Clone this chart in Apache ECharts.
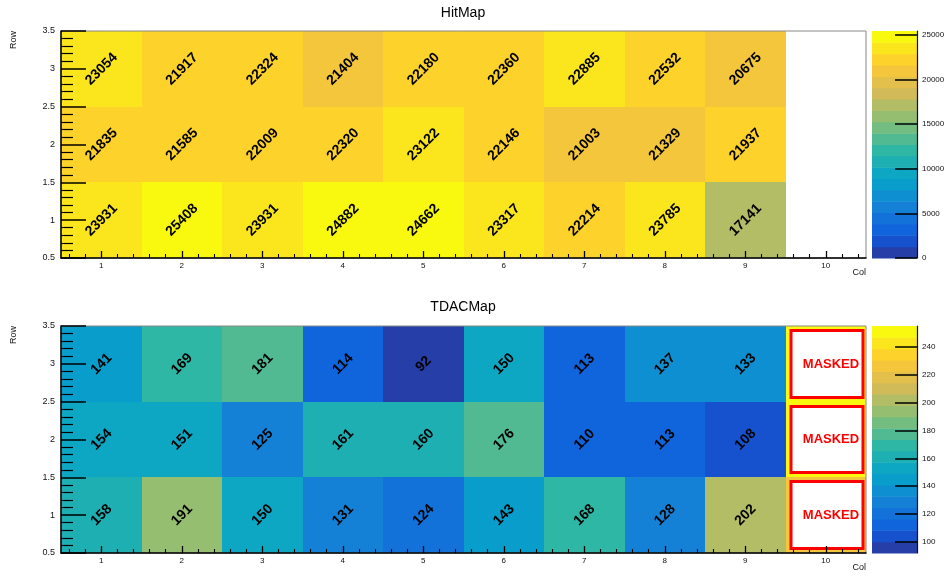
<!DOCTYPE html>
<html><head><meta charset="utf-8">
<script src="https://cdn.jsdelivr.net/npm/echarts@6/dist/echarts.min.js"></script>
<style>html,body{margin:0;padding:0;background:#fff}#c{width:949px;height:576px}</style>
</head><body><div id="c"></div>
<script>
// ---------- data ----------
const cols = [1, 2, 3, 4, 5, 6, 7, 8, 9, 10];
const rows = [1, 2, 3];
const hitRow1 = [23931, 25408, 23931, 24882, 24662, 23317, 22214, 23785, 17141, null];
const hitRow2 = [21835, 21585, 22009, 22320, 23122, 22146, 21003, 21329, 21937, null];
const hitRow3 = [23054, 21917, 22324, 21404, 22180, 22360, 22885, 22532, 20675, null];
const tdacRow1 = [158, 191, 150, 131, 124, 143, 168, 128, 202, 226];
const tdacRow2 = [154, 151, 125, 161, 160, 176, 110, 113, 108, 250];
const tdacRow3 = [141, 169, 181, 114, 92, 150, 113, 137, 133, 255];
const maskedCols = [10];
const hitTicks = [0, 5000, 10000, 15000, 20000, 25000];
const tdacTicks = [100, 120, 140, 160, 180, 200, 220, 240];
const xTicks = [1, 2, 3, 4, 5, 6, 7, 8, 9, 10];
const titles = ['HitMap', 'TDACMap'];
const axisNames = ['Col', 'Row'];
const maskedLabel = 'MASKED';

// ---------- palette (ROOT kBird, 255 colours, 20 contours) ----------
const stops = [0, .125, .25, .375, .5, .625, .75, .875, 1];
const pR = [0.2082, 0.0592, 0.0780, 0.0232, 0.1802, 0.5301, 0.8186, 0.9956, 0.9764];
const pG = [0.1664, 0.3599, 0.5041, 0.6419, 0.7178, 0.7492, 0.7328, 0.7862, 0.9832];
const pB = [0.5293, 0.8684, 0.8385, 0.7914, 0.6425, 0.4662, 0.3499, 0.1968, 0.0539];
const NCOL = 255, NDIV = 20;
const palette = [];
for (let g = 1; g < stops.length; g++) {
  const n = Math.floor(NCOL * stops[g]) - Math.floor(NCOL * stops[g - 1]);
  for (let c = 0; c < n; c++) {
    const r = pR[g - 1] + c * (pR[g] - pR[g - 1]) / n;
    const gg = pG[g - 1] + c * (pG[g] - pG[g - 1]) / n;
    const b = pB[g - 1] + c * (pB[g] - pB[g - 1]) / n;
    palette.push('rgb(' + Math.round(r * 255) + ',' + Math.round(gg * 255) + ',' + Math.round(b * 255) + ')');
  }
}
function bandColor(i) { return palette[Math.min(NCOL - 1, Math.floor((i + 0.99) * NCOL / NDIV))]; }
function bandOf(v, zmin, zmax) {
  const b = Math.floor(0.01 + (v - zmin) * NDIV / (zmax - zmin));
  return Math.max(0, Math.min(NDIV - 1, b));
}

function toCells(rowArrays) {
  const out = [];
  rowArrays.forEach((arr, ri) => arr.forEach((v, ci) => {
    if (v !== null) out.push([cols[ci], rows[ri], v, maskedCols.indexOf(cols[ci]) >= 0 ? 1 : 0]);
  }));
  return out;
}
const hitCells = toCells([hitRow1, hitRow2, hitRow3]);
const tdacCells = toCells([tdacRow1, tdacRow2, tdacRow3]);
const hitVals = hitCells.map(d => d[2]);
const tdacVals = tdacCells.map(d => d[2]);
const hitMin = 0, hitMax = Math.max.apply(null, hitVals);
const tdacMin = Math.min.apply(null, tdacVals), tdacMax = Math.max.apply(null, tdacVals);

// ---------- layout ----------
const FONT = '"Liberation Sans", Arial, Helvetica, sans-serif';
const L = 61, W = 805, H = 227, T1 = 31, T2 = 326, CBX = 872, CBW = 45;
const minorX = [];
for (let k = 3; k <= 52; k++) { if (k % 5 !== 0) minorX.push(k / 5); }

function heatRender(zmin, zmax) {
  return function (params, api) {
    const x = api.value(0), y = api.value(1), v = api.value(2), m = api.value(3);
    const p0 = api.coord([x - 0.5, y + 0.5]);
    const p1 = api.coord([x + 0.5, y - 0.5]);
    const x0 = Math.round(p0[0]), y0 = Math.round(p0[1]);
    const w = Math.round(p1[0]) - x0, h = Math.round(p1[1]) - y0;
    const children = [{ type: 'rect', shape: { x: x0, y: y0, width: w, height: h },
      style: { fill: bandColor(bandOf(v, zmin, zmax)) } }];
    if (m) {
      children.push({ type: 'rect', shape: { x: x0 + 5, y: y0 + 4.5, width: w - 8, height: h - 9 },
        style: { fill: '#ffffff', stroke: '#ff0000', lineWidth: 3 } });
      children.push({ type: 'text', x: x0 + w / 2 + 5, y: y0 + h / 2,
        style: { text: maskedLabel, fill: '#ff0000', font: 'bold 13px ' + FONT,
          align: 'center', verticalAlign: 'middle', textAlign: 'center', textVerticalAlign: 'middle' } });
    } else {
      children.push({ type: 'text', x: x0 + w / 2, y: y0 + h / 2, rotation: Math.PI / 4,
        style: { text: String(v), fill: '#000', font: 'bold 14px ' + FONT,
          align: 'center', verticalAlign: 'middle', textAlign: 'center', textVerticalAlign: 'middle' } });
    }
    return { type: 'group', children: children };
  };
}
function barRender(zmin, zmax) {
  return function (params, api) {
    const i = api.value(0);
    const step = (zmax - zmin) / NDIV;
    const p0 = api.coord([0, zmin + (i + 1) * step]);
    const p1 = api.coord([1, zmin + i * step]);
    return { type: 'rect', shape: { x: p0[0], y: p0[1], width: p1[0] - p0[0], height: p1[1] - p0[1] + 0.5 },
      style: { fill: bandColor(i) } };
  };
}
const bands = [];
for (let i = 0; i < NDIV; i++) bands.push([i]);

function mainX(gi) {
  return [{
    gridIndex: gi, type: 'value', min: 0.5, max: 10.5, position: 'bottom', z: 10,
    axisLine: { show: true, onZero: false, lineStyle: { color: '#000', width: 1.5 } },
    axisTick: { show: true, inside: true, length: 7, customValues: xTicks, lineStyle: { color: '#000', width: 1.3 } },
    axisLabel: { customValues: xTicks, fontSize: 8, fontFamily: FONT, color: '#111', margin: 4 },
    splitLine: { show: false }
  }, {
    gridIndex: gi, type: 'value', min: 0.5, max: 10.5, position: 'bottom', offset: 0, z: 10,
    axisLine: { show: false, onZero: false },
    axisTick: { show: true, inside: true, length: 4, customValues: minorX, lineStyle: { color: '#000', width: 1.1 } },
    axisLabel: { show: false }, splitLine: { show: false }
  }];
}
function mainY(gi) {
  return {
    gridIndex: gi, type: 'value', min: 0.5, max: 3.5, interval: 0.5, z: 10,
    axisLine: { show: true, onZero: false, lineStyle: { color: '#000', width: 1.5 } },
    axisTick: { show: true, inside: true, length: 25, lineStyle: { color: '#000', width: 1.5 } },
    minorTick: { show: true, splitNumber: 5, length: 12, lineStyle: { color: '#000', width: 1.2 } },
    axisLabel: { fontSize: 9, fontFamily: FONT, color: '#111', margin: 6 },
    splitLine: { show: false }, minorSplitLine: { show: false }
  };
}
function barY(gi, zmin, zmax, ticks) {
  return {
    gridIndex: gi, type: 'value', min: zmin, max: zmax, position: 'right', z: 10,
    axisLine: { show: true, onZero: false, lineStyle: { color: '#111', width: 1.2 } },
    axisTick: { show: true, inside: true, length: 22, customValues: ticks, lineStyle: { color: '#000', width: 1.5 } },
    axisLabel: { customValues: ticks, fontSize: 8, fontFamily: FONT, color: '#111', margin: 5,
      formatter: function (v) { return String(v); } },
    splitLine: { show: false }
  };
}

const chart = echarts.init(document.getElementById('c'), null, { renderer: 'canvas' });
chart.setOption({
  animation: false,
  backgroundColor: '#fff',
  grid: [
    { left: L, top: T1, width: W, height: H, show: true, borderColor: '#888', borderWidth: 1, z: 9 },
    { left: L, top: T2, width: W, height: H, show: true, borderColor: '#888', borderWidth: 1, z: 9 },
    { left: CBX, top: T1, width: CBW, height: H },
    { left: CBX, top: T2, width: CBW, height: H }
  ],
  xAxis: [].concat(mainX(0), mainX(1),
    [{ gridIndex: 2, type: 'value', min: 0, max: 1, show: false, axisLine: { onZero: false } },
     { gridIndex: 3, type: 'value', min: 0, max: 1, show: false, axisLine: { onZero: false } }]),
  yAxis: [mainY(0), mainY(1), barY(2, hitMin, hitMax, hitTicks), barY(3, tdacMin, tdacMax, tdacTicks)],
  graphic: [
    { type: 'text', x: 463, y: 13, style: { text: titles[0], font: '14px ' + FONT, fill: '#000', align: 'center', verticalAlign: 'middle', textAlign: 'center', textVerticalAlign: 'middle' } },
    { type: 'text', x: 463, y: 307, style: { text: titles[1], font: '14px ' + FONT, fill: '#000', align: 'center', verticalAlign: 'middle', textAlign: 'center', textVerticalAlign: 'middle' } },
    { type: 'text', x: 13.5, y: T1, rotation: Math.PI / 2, style: { text: axisNames[1], font: '9px ' + FONT, fill: '#111', align: 'right', verticalAlign: 'middle', textAlign: 'right', textVerticalAlign: 'middle' } },
    { type: 'text', x: 13.5, y: T2, rotation: Math.PI / 2, style: { text: axisNames[1], font: '9px ' + FONT, fill: '#111', align: 'right', verticalAlign: 'middle', textAlign: 'right', textVerticalAlign: 'middle' } },
    { type: 'text', x: L + W, y: T1 + H + 15, style: { text: axisNames[0], font: '9px ' + FONT, fill: '#111', align: 'right', verticalAlign: 'middle', textAlign: 'right', textVerticalAlign: 'middle' } },
    { type: 'text', x: L + W, y: T2 + H + 15, style: { text: axisNames[0], font: '9px ' + FONT, fill: '#111', align: 'right', verticalAlign: 'middle', textAlign: 'right', textVerticalAlign: 'middle' } }
  ],
  series: [
    { type: 'custom', xAxisIndex: 0, yAxisIndex: 0, data: hitCells, renderItem: heatRender(hitMin, hitMax), z: 2 },
    { type: 'custom', xAxisIndex: 2, yAxisIndex: 1, data: tdacCells, renderItem: heatRender(tdacMin, tdacMax), z: 2 },
    { type: 'custom', xAxisIndex: 4, yAxisIndex: 2, data: bands, renderItem: barRender(hitMin, hitMax), z: 2 },
    { type: 'custom', xAxisIndex: 5, yAxisIndex: 3, data: bands, renderItem: barRender(tdacMin, tdacMax), z: 2 }
  ]
});
</script>
</body></html>
